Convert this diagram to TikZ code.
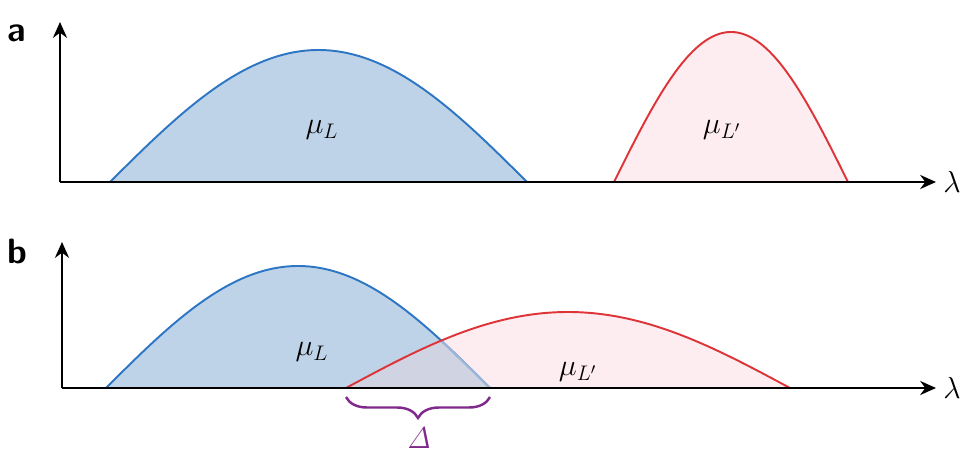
\documentclass[tikz,border=0pt]{standalone}
\usepackage{amsmath,amssymb}
\usepackage[dvipsnames]{xcolor}
\definecolor{blueline}{RGB}{45, 118, 196}
\definecolor{bluefill}{RGB}{190, 211, 232}
\definecolor{redline}{RGB}{222, 52, 56}
\definecolor{pinkfill}{RGB}{253, 236, 240}
\definecolor{overlap}{RGB}{207, 211, 226}
\definecolor{bracecol}{RGB}{128, 40, 140}
\usepackage{tikz}
\usetikzlibrary{arrows.meta,decorations.pathreplacing}

% half-sine bump: start, end, baseline, height
\newcommand{\bumppath}[4]{plot[domain=#1:#2, samples=90, smooth] (\x, {#3-#4*sin((\x-#1)/(#2-#1)*180)})}

\begin{document}
\begin{tikzpicture}[x=0.02cm, y=-0.02cm, >=Stealth,
    axis/.style={line width=1.3pt, black, -{Stealth[length=9pt, width=8pt]}},
    curve/.style={line width=1.1pt},
    mulabel/.style={font=\fontsize{18}{21}\selectfont},
    panellabel/.style={font=\fontsize{20}{24}\selectfont\sffamily\bfseries},
    bracesty/.style={line width=1.4pt, bracecol, decorate,
        decoration={brace, mirror, amplitude=0.42cm}}]
    \useasboundingbox (0,0) rectangle (961,456);

    % Panel a: two separated distributions
    \coordinate (oa) at (60,182);
    \fill[bluefill] \bumppath{110}{527}{182}{132} -- cycle;
    \fill[pinkfill] \bumppath{614}{848}{182}{150} -- cycle;
    \draw[curve, blueline] \bumppath{110}{527}{182}{132};
    \draw[curve, redline] \bumppath{614}{848}{182}{150};

    \draw[axis] (oa) -- (60,22);
    \draw[axis] (oa) -- (936,182) coordinate (xa);
    \node[mulabel, anchor=west, inner sep=1pt] (lama) at ([xshift=3pt]xa) {$\lambda$};
    \node[panellabel] (la) at (17,33) {a};
    \node[mulabel] (mula) at (322,130) {$\mu_{L}$};
    \node[mulabel] (mulpa) at (722,130) {$\mu_{L'}$};

    % Panel b: overlapping distributions
    \coordinate (ob) at (62,388);
    \fill[bluefill] \bumppath{106}{490}{388}{122} -- cycle;
    \fill[pinkfill] \bumppath{346}{790}{388}{76} -- cycle;
    \begin{scope}
        \clip \bumppath{106}{490}{388}{122} -- cycle;
        \fill[overlap] \bumppath{346}{790}{388}{76} -- cycle;
    \end{scope}
    \draw[curve, blueline] \bumppath{106}{490}{388}{122};
    \begin{scope}
        \clip \bumppath{346}{790}{388}{76} -- cycle;
        \draw[curve, blueline!30!overlap] \bumppath{106}{490}{388}{122};
    \end{scope}
    \draw[curve, redline] \bumppath{346}{790}{388}{76};

    \draw[axis] (ob) -- (62,242);
    \draw[axis] (ob) -- (936,388) coordinate (xb);
    \node[mulabel, anchor=west, inner sep=1pt] (lamb) at ([xshift=3pt]xb) {$\lambda$};
    \node[panellabel] (lb) at (17,251) {b};
    \node[mulabel] (mulb) at (312,352) {$\mu_{L}$};
    \node[mulabel] (mulpb) at (578,372) {$\mu_{L'}$};

    % Width of the overlap
    \coordinate (dl) at (346,397);
    \coordinate (dr) at (490,397);
    \draw[bracesty] (dl) -- (dr);
    \node[mulabel, text=bracecol] (delta) at (419,438) {$\mathit{\Delta}$};
\end{tikzpicture}
\end{document}
